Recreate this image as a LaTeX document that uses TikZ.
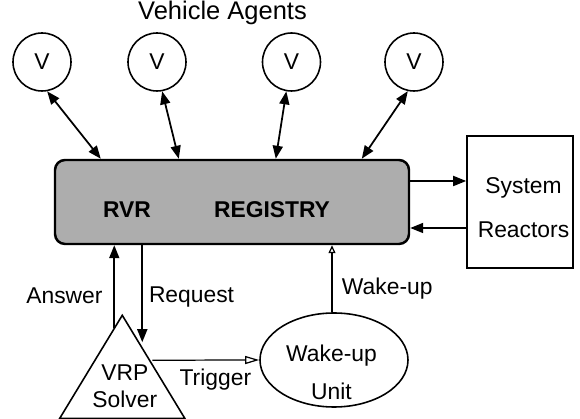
\documentclass[tikz,border=0pt]{standalone}
\usepackage{fontspec}
\setmainfont{Liberation Sans}
\usetikzlibrary{shapes.geometric,arrows.meta,positioning}
\tikzset
{
    agent/.style    = {circle, draw=black, line width=0.9pt, minimum size=1.16cm, inner sep=0pt},
    registry/.style = {rectangle, rounded corners=0.2cm, draw=black, line width=1.4pt, fill=black!32, minimum width=7.08cm, minimum height=1.68cm},
    reactor/.style  = {rectangle, draw=black, line width=0.9pt, minimum width=2.12cm, minimum height=2.64cm},
    solver/.style   = {isosceles triangle, isosceles triangle stretches, draw=black, line width=0.9pt, minimum height=2.06cm, minimum width=2.5cm, shape border rotate=90, inner sep=0pt},
    unit/.style     = {ellipse, draw=black, line width=0.9pt, minimum width=2.96cm, minimum height=1.88cm},
    arrow/.style    = {line width=1pt, -{Triangle[length=0.26cm, width=0.2cm]}},
    biarrow/.style  = {line width=1pt, {Triangle[length=0.26cm, width=0.2cm]}-{Triangle[length=0.26cm, width=0.2cm]}},
    trigger/.style  = {line width=0.7pt, -{Triangle[open, length=0.28cm, width=0.16cm]}},
    wakeup/.style   = {line width=0.7pt, -{Triangle[open, length=0.16cm, width=0.14cm]}}
}

\begin{document}
\begin{tikzpicture}[font=\fontsize{13}{15.6}\selectfont]
	\useasboundingbox (0,0) rectangle (11.6,-8.38);
	\node (title) [anchor=base, font=\fontsize{14.5}{17}\selectfont] at (4.45,-0.39) {Vehicle Agents};
	\node (v1) [agent] at (0.84,-1.24) {V};
	\node (v2) [agent, right of=v1, xshift=1.3cm] {V};
	\node (v3) [agent, right of=v2, xshift=1.69cm] {V};
	\node (v4) [agent, right of=v3, xshift=1.45cm] {V};
	\node (reg) [registry] at (4.64,-4.04) {};
	\node (rvr) [font=\bfseries\fontsize{13}{15.6}\selectfont] at ([xshift=-2.1cm, yshift=-0.16cm]reg.center) {RVR};
	\node (regtxt) [font=\bfseries\fontsize{13}{15.6}\selectfont] at ([xshift=0.8cm, yshift=-0.16cm]reg.center) {REGISTRY};
	\node (sysr) [reactor, right of=reg, xshift=4.76cm] {};
	\node (systxt) [align=center] at ([xshift=0.07cm, yshift=-0.11cm]sysr.center) {System\\[0.34cm]Reactors};
	\node (vrp) [solver, anchor=apex] at ([xshift=1.37cm, yshift=-1.36cm]reg.south west) {};
	\node (vrptxt) [align=center] at ([xshift=0.05cm, yshift=-1.46cm]vrp.apex) {VRP\\Solver};
	\node (wake) [unit, below of=reg, xshift=2.04cm, yshift=-2.16cm] {};
	\node (waketxt) [align=center] at ([xshift=-0.05cm, yshift=-0.25cm]wake.center) {Wake-up\\[0.22cm]Unit};

	\draw [biarrow] (v1.-80) -- ([xshift=0.94cm]reg.north west);
	\draw [biarrow] (v2.-80) -- ([xshift=2.5cm]reg.north west);
	\draw [biarrow] (v3.-100) -- ([xshift=4.44cm]reg.north west);
	\draw [biarrow] (v4.-102) -- ([xshift=6.16cm]reg.north west);
	\draw [arrow] ([yshift=0.42cm]reg.east) -- ([yshift=0.42cm]reg.east -| sysr.west);
	\draw [arrow] ([yshift=-0.52cm]reg.east -| sysr.west) -- ([yshift=-0.52cm]reg.east);
	\draw [arrow] ([xshift=-0.16cm, yshift=-0.3cm]vrp.apex) -- node[anchor=east, pos=0.39, xshift=-0.1cm] {Answer} ([xshift=-0.16cm]vrp.apex |- reg.south);
	\draw [arrow] ([xshift=0.4cm]vrp.apex |- reg.south) -- node[anchor=west, pos=0.53] {Request} ([xshift=0.4cm, yshift=-0.58cm]vrp.apex);
	\draw [trigger] ([xshift=0.6cm, yshift=-0.94cm]vrp.apex) -- node[anchor=north, pos=0.59, yshift=-0.05cm] {Trigger} (wake.west);
	\draw [wakeup] ([xshift=-0.04cm]wake.north) -- node[anchor=west, pos=0.35, xshift=0.07cm] {Wake-up} ([xshift=-0.04cm]wake.north |- reg.south);
\end{tikzpicture}
\end{document}
